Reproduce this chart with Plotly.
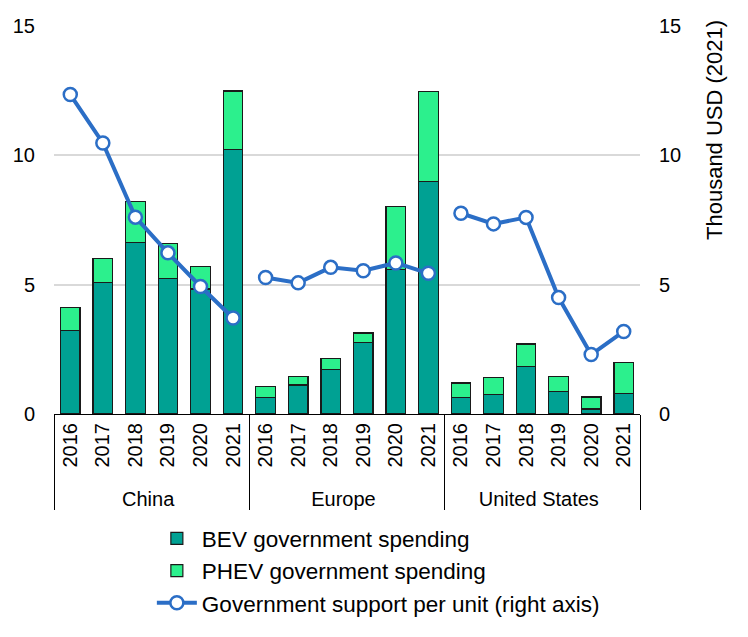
import plotly.graph_objects as go

regions = ["China", "Europe", "United States"]
years = ["2016", "2017", "2018", "2019", "2020", "2021"]

bev = {
    "China": [3.22, 5.07, 6.62, 5.24, 4.83, 10.23],
    "Europe": [0.63, 1.12, 1.72, 2.76, 5.58, 8.99],
    "United States": [0.63, 0.76, 1.83, 0.86, 0.19, 0.79],
}
total = {
    "China": [4.12, 6.02, 8.23, 6.59, 5.71, 12.49],
    "Europe": [1.07, 1.46, 2.14, 3.13, 8.02, 12.48],
    "United States": [1.20, 1.42, 2.71, 1.45, 0.66, 1.98],
}
support = {
    "China": [12.35, 10.48, 7.61, 6.23, 4.93, 3.71],
    "Europe": [5.28, 5.07, 5.67, 5.54, 5.84, 5.44],
    "United States": [7.76, 7.35, 7.60, 4.50, 2.30, 3.19],
}

BEV_COLOR = "#00A193"
PHEV_COLOR = "#2CF08D"
LINE_COLOR = "#2B6EC6"
FONT = "Liberation Sans, Arial, sans-serif"

xr = [r for r in regions for _ in years]
xy = [y for _ in regions for y in years]
bev_all = [v for r in regions for v in bev[r]]
phev_all = [round(t - b, 2) for r in regions for t, b in zip(total[r], bev[r])]

fig = go.Figure()
fig.add_trace(go.Bar(
    x=[xr, xy], y=bev_all, name="BEV government spending",
    marker=dict(color=BEV_COLOR, line=dict(color="#1a1a1a", width=1.2)),
))
fig.add_trace(go.Bar(
    x=[xr, xy], y=phev_all, name="PHEV government spending",
    marker=dict(color=PHEV_COLOR, line=dict(color="#1a1a1a", width=1.2)),
))
for i, r in enumerate(regions):
    fig.add_trace(go.Scatter(
        x=[[r] * len(years), years], y=support[r],
        name="Government support per unit (right axis)",
        mode="lines+markers", yaxis="y2",
        legendgroup="support", showlegend=(i == 0),
        line=dict(color=LINE_COLOR, width=4),
        marker=dict(size=13, color="white", line=dict(color=LINE_COLOR, width=2.5)),
    ))

n_cat = len(regions) * len(years)

fig.update_layout(
    width=740, height=629,
    margin=dict(l=46, r=108, t=18, b=223, autoexpand=False),
    paper_bgcolor="white", plot_bgcolor="white",
    barmode="stack", bargap=0.4,
    font=dict(family=FONT, size=20, color="black"),
    showlegend=True,
    legend=dict(
        x=0.167, y=-0.266, xanchor="left", yanchor="top",
        font=dict(size=22.5), tracegroupgap=0, itemwidth=40,
        traceorder="normal",
    ),
    xaxis=dict(
        type="multicategory", showline=True, linecolor="black", linewidth=1.2,
        showdividers=True, dividercolor="black", dividerwidth=1.2,
        tickangle=-90, tickfont=dict(size=20), ticks="", showgrid=False,
        range=[-0.5, n_cat - 0.5], autorange=False, automargin=False,
    ),
    yaxis=dict(
        range=[0, 15], tickvals=[0, 5, 10, 15], showgrid=True,
        gridcolor="#D9D9D9", gridwidth=1.5, zeroline=False, showline=False,
        ticklabelstandoff=18, tickfont=dict(size=20), automargin=False,
    ),
    yaxis2=dict(
        range=[0, 15], tickvals=[0, 5, 10, 15], overlaying="y", side="right",
        showgrid=False, zeroline=False, showline=False,
        ticklabelstandoff=18, tickfont=dict(size=20), automargin=False,
    ),
    annotations=[dict(
        text="Thousand USD (2021)", textangle=-90, xref="paper", yref="paper",
        x=1.128, y=0.732, xanchor="center", yanchor="middle", showarrow=False,
        font=dict(size=22),
    )],
)

fig.write_html("out.html")
